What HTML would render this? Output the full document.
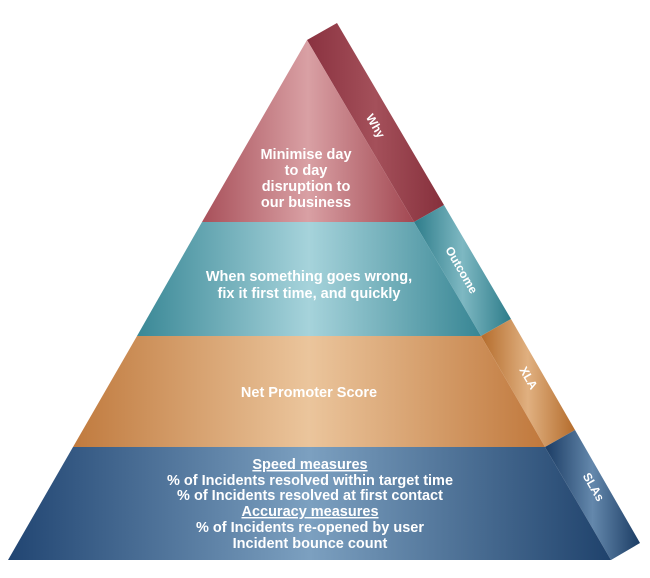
<!DOCTYPE html>
<html><head><meta charset="utf-8"><style>
html,body{margin:0;padding:0;background:#fff;}
svg{display:block;}
text{font-family:"Liberation Sans",Arial,sans-serif;font-weight:bold;fill:#fff;}
</style></head><body>
<svg width="650" height="578" viewBox="0 0 650 578" xmlns="http://www.w3.org/2000/svg">
<defs>
<linearGradient id="r" x1="0" x2="1"><stop offset="0" stop-color="#a8505a"/><stop offset="0.5" stop-color="#d9a0a4"/><stop offset="1" stop-color="#a24852"/></linearGradient>
<linearGradient id="t" x1="0" x2="1"><stop offset="0" stop-color="#3a8896"/><stop offset="0.5" stop-color="#a6d3db"/><stop offset="1" stop-color="#388694"/></linearGradient>
<linearGradient id="o" x1="0" x2="1"><stop offset="0" stop-color="#c07a3e"/><stop offset="0.5" stop-color="#ebc59c"/><stop offset="1" stop-color="#c0783c"/></linearGradient>
<linearGradient id="n" x1="0" x2="1"><stop offset="0" stop-color="#214572"/><stop offset="0.5" stop-color="#7ca0c0"/><stop offset="1" stop-color="#1f426c"/></linearGradient>
<linearGradient id="rs" x1="0" x2="1"><stop offset="0" stop-color="#8a3240"/><stop offset="0.5" stop-color="#a4505a"/><stop offset="1" stop-color="#86303c"/></linearGradient>
<linearGradient id="ts" x1="0" x2="1"><stop offset="0" stop-color="#2d7c8a"/><stop offset="0.5" stop-color="#7eb8c2"/><stop offset="1" stop-color="#2d7c8a"/></linearGradient>
<linearGradient id="os" x1="0" x2="1"><stop offset="0" stop-color="#b46c2c"/><stop offset="0.5" stop-color="#e0b080"/><stop offset="1" stop-color="#b46c2c"/></linearGradient>
<linearGradient id="ns" x1="0" x2="1"><stop offset="0" stop-color="#1b3c64"/><stop offset="0.5" stop-color="#6488ac"/><stop offset="1" stop-color="#1b3c64"/></linearGradient>
</defs>
<polygon points="307,40 337,23 444,205 414,222" fill="url(#rs)"/>
<polygon points="414,222 444,205 511,319 481,336" fill="url(#ts)"/>
<polygon points="481,336 511,319 575,430 545,447" fill="url(#os)"/>
<polygon points="545,447 575,430 640,543 611,560" fill="url(#ns)"/>
<polygon points="307,40 414,222 202,222" fill="url(#r)"/>
<polygon points="202,222 414,222 481,336 137,336" fill="url(#t)"/>
<polygon points="137,336 481,336 545,447 73,447" fill="url(#o)"/>
<polygon points="73,447 545,447 611,560 8,560" fill="url(#n)"/>
<g font-size="14.5" text-anchor="middle">
<text x="306" y="159">Minimise day</text>
<text x="306" y="175">to day</text>
<text x="306" y="191">disruption to</text>
<text x="306" y="207">our business</text>
<text x="309" y="281">When something goes wrong,</text>
<text x="309" y="298">fix it first time, and quickly</text>
<text x="309" y="397">Net Promoter Score</text>
<text x="310" y="469" text-decoration="underline">Speed measures</text>
<text x="310" y="485">% of Incidents resolved within target time</text>
<text x="310" y="500">% of Incidents resolved at first contact</text>
<text x="310" y="516" text-decoration="underline">Accuracy measures</text>
<text x="310" y="532">% of Incidents re-opened by user</text>
<text x="310" y="548">Incident bounce count</text>
</g>
<g font-size="12" text-anchor="middle">
<text transform="translate(372,128) rotate(60)">Why</text>
<text transform="translate(458,272) rotate(60)">Outcome</text>
<text transform="translate(525,380) rotate(60)">XLA</text>
<text transform="translate(590,489) rotate(60)">SLAs</text>
</g>
</svg>
</body></html>
